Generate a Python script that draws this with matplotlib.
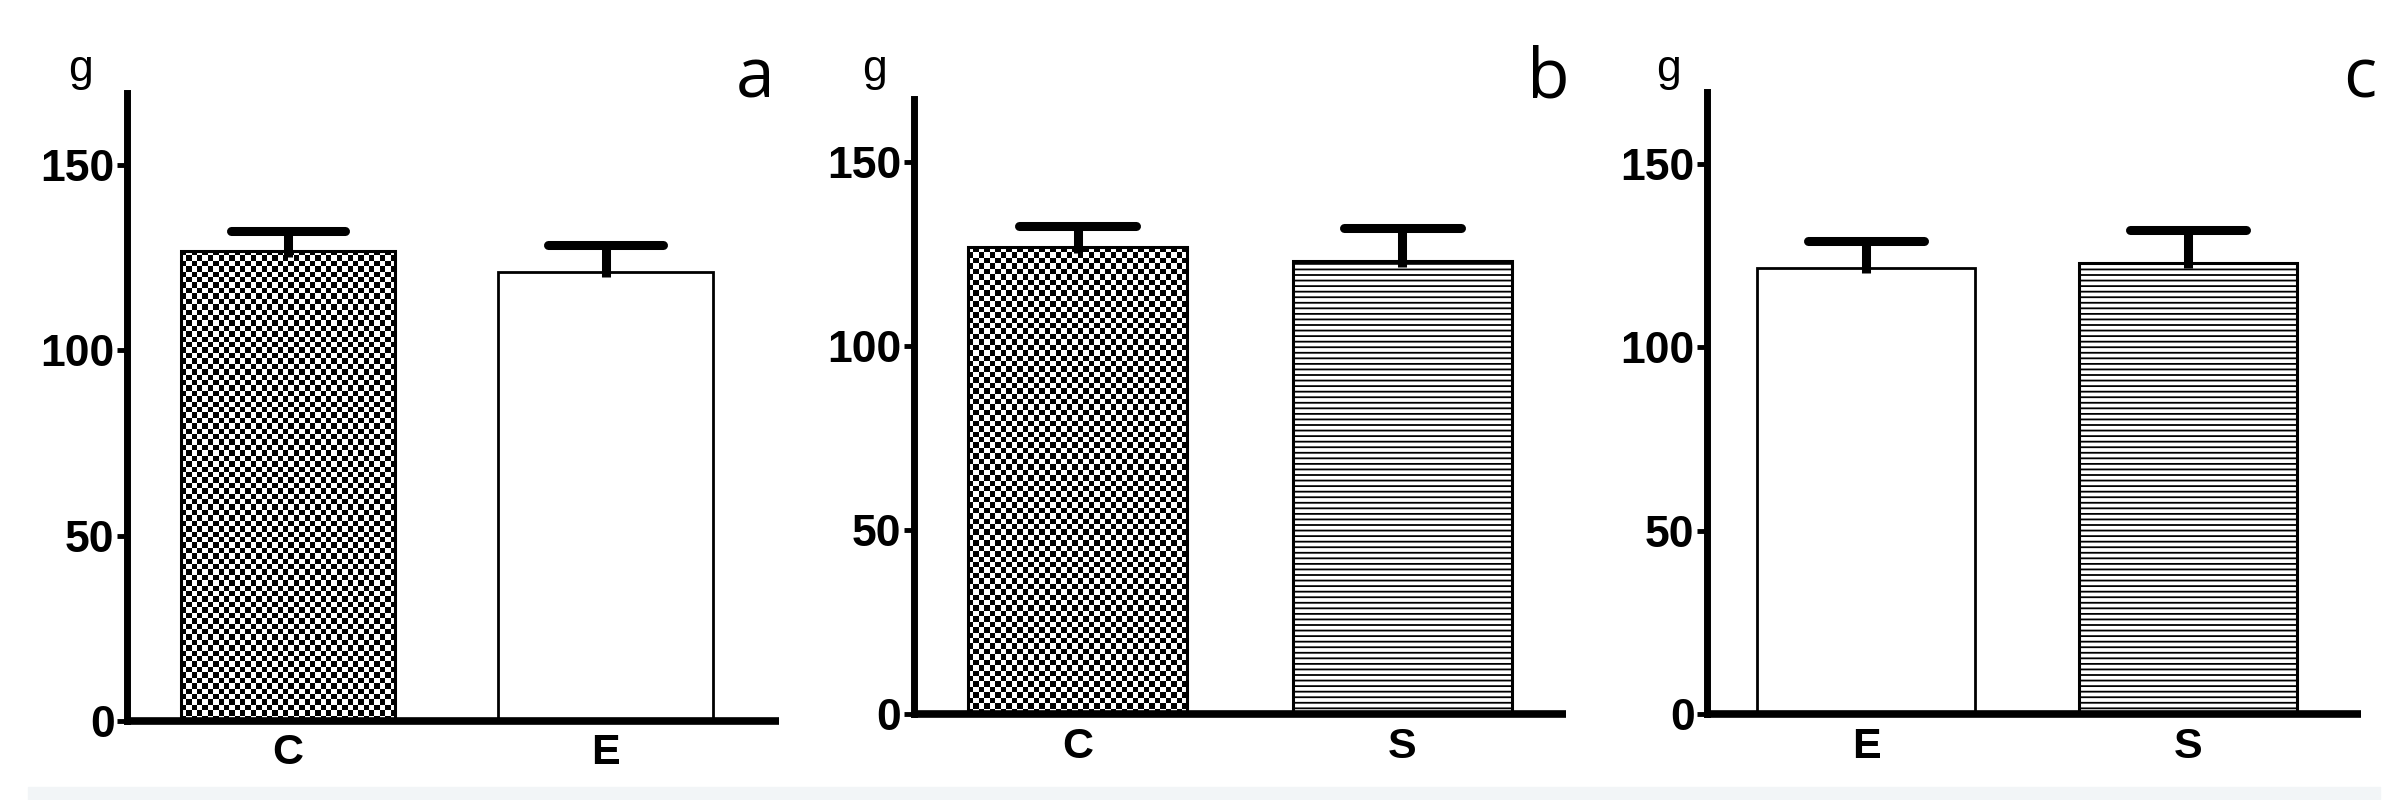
import numpy as np
import matplotlib
matplotlib.use("Agg")
import matplotlib.pyplot as plt
from matplotlib.patches import Rectangle

# values (g, mean + upper SEM bar)
panel_letters = ["a", "b", "c"]
a_groups = ["C", "E"]
a_means = [126.8, 121.2]
a_sem = [5.5, 7.1]
b_groups = ["C", "S"]
b_means = [126.9, 123.0]
b_sem = [5.7, 9.0]
c_groups = ["E", "S"]
c_means = [121.7, 123.1]
c_sem = [7.2, 8.9]
y_ticks = [0, 50, 100, 150]
y_unit = "g"

W, H, DPI = 2396, 800, 100
plt.rcParams["font.family"] = ["Liberation Sans", "DejaVu Sans"]
plt.rcParams["hatch.linewidth"] = 1.3

fig = plt.figure(figsize=(W / DPI, H / DPI), dpi=DPI)
fig.patch.set_facecolor("white")
fig.patches.append(Rectangle((28 / W, 0), (2380 - 28) / W, 13 / H,
                             transform=fig.transFigure, color="#f2f5f7", zorder=0))

# per-panel layout in pixels: left, right, x-axis y, ytop value, xlim, unit label x
layout = [
    dict(left=127, right=779, base=721, ymax=169.5, xlim=(-0.507, 1.546), gx=80, lx=755),
    dict(left=914, right=1566, base=714, ymax=167.0, xlim=(-0.504, 1.505), gx=874, lx=1548),
    dict(left=1707, right=2361, base=714, ymax=169.6, xlim=(-0.494, 1.537), gx=1669, lx=2360),
]
px_per_unit = [3.707, 3.68, 3.667]
data = [(a_groups, a_means, a_sem), (b_groups, b_means, b_sem), (c_groups, c_means, c_sem)]

BAR_W = 0.675
CAP_HALF = 0.18


def draw_bar(ax, x, h, group, ppu):
    if group == "C":
        # checkerboard fill, ~5.4 px squares
        nx = 40
        ny = max(1, int(round(h * ppu / 5.4)))
        yy, xx = np.indices((ny, nx))
        checker = ((xx + yy) % 2).astype(float)
        ax.imshow(checker, cmap="gray", interpolation="nearest", aspect="auto",
                  extent=(x - BAR_W / 2, x + BAR_W / 2, 0, h), origin="lower",
                  zorder=1, vmin=0, vmax=1)
        ax.bar(x, h, width=BAR_W, facecolor="none", edgecolor="black", lw=2.2, zorder=2)
    elif group == "S":
        ax.bar(x, h, width=BAR_W, facecolor="white", edgecolor="black", hatch="---",
               lw=2.2, zorder=2)
    else:
        ax.bar(x, h, width=BAR_W, facecolor="white", edgecolor="black", lw=2.0, zorder=2)


for k, (lay, (groups, means, sems)) in enumerate(zip(layout, data)):
    ppu = px_per_unit[k]
    height_px = lay["ymax"] * ppu
    ax = fig.add_axes([lay["left"] / W, 1 - lay["base"] / H,
                       (lay["right"] - lay["left"]) / W, height_px / H])
    xs = np.arange(len(groups))
    for x, m, s, g in zip(xs, means, sems, groups):
        draw_bar(ax, x, m, g, ppu)
        ax.plot([x, x], [m - 1.5, m + s], color="black", lw=6.5,
                solid_capstyle="butt", zorder=3)
        ax.plot([x - CAP_HALF, x + CAP_HALF], [m + s, m + s], color="black", lw=6.5,
                solid_capstyle="round", zorder=3)

    ax.set_xlim(*lay["xlim"])
    ax.set_ylim(0, lay["ymax"])
    ax.set_xticks(xs)
    ax.set_xticklabels(groups, fontsize=31, fontweight="bold")
    ax.set_yticks(y_ticks)
    ax.set_yticklabels([str(t) for t in y_ticks], fontsize=32, fontweight="bold")
    ax.tick_params(axis="x", length=0, pad=9)
    ax.tick_params(axis="y", length=7, width=3.5, pad=2, direction="out")
    for side in ("top", "right"):
        ax.spines[side].set_visible(False)
    ax.spines["left"].set_linewidth(5)
    ax.spines["bottom"].set_linewidth(5.5)
    ax.spines["bottom"].set_capstyle("butt")
    ax.patch.set_alpha(0)

    fig.text(lay["gx"] / W, 1 - 81 / H, y_unit, fontsize=32, ha="center", va="baseline")
    fig.text(lay["lx"] / W, 1 - 97 / H, panel_letters[k], fontsize=50, ha="center",
             va="baseline", family=["Open Sans", "DejaVu Sans"])

fig.savefig("out.png", dpi=DPI, facecolor="white")
